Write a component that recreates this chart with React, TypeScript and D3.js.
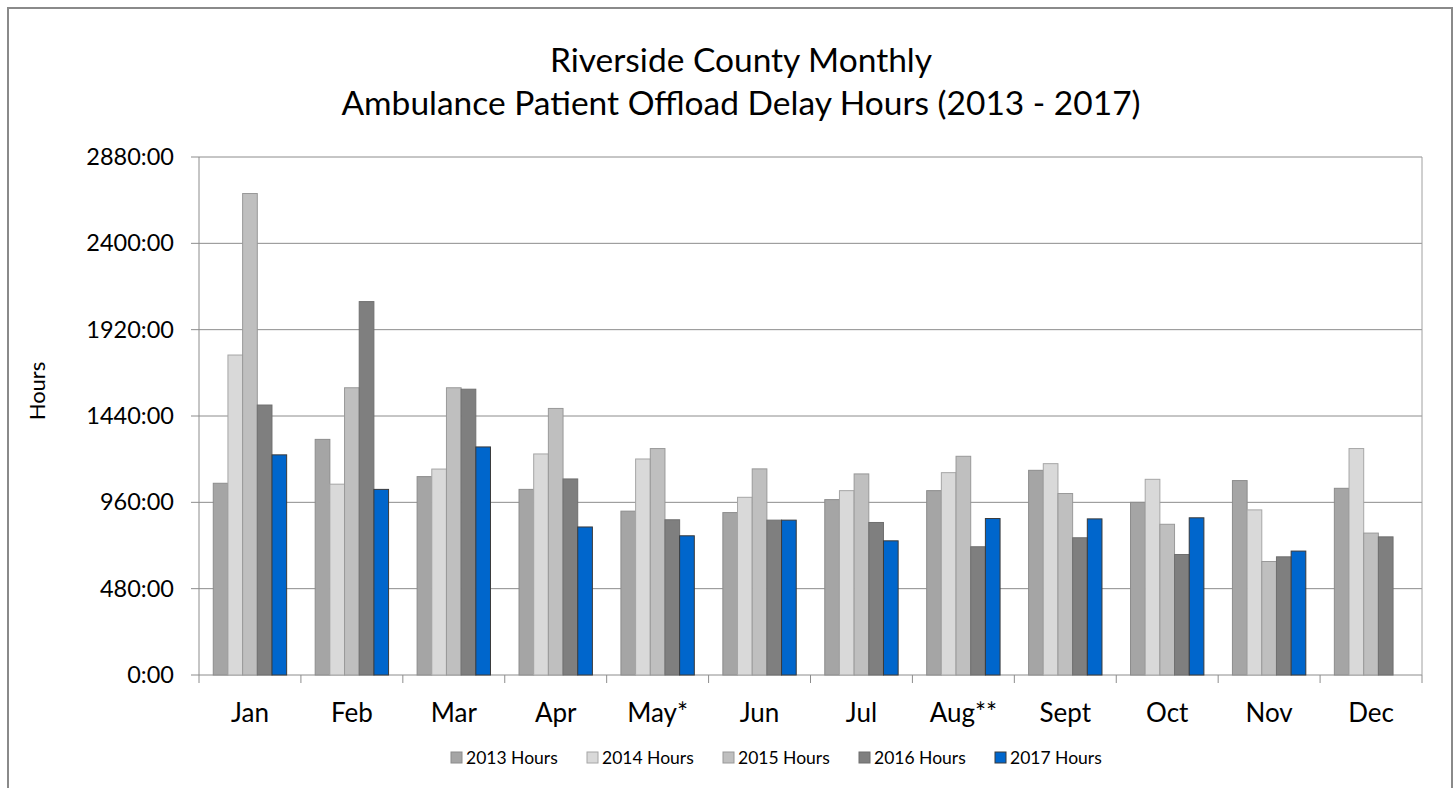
import React from "react";
import * as d3 from "d3";

const months = ["Jan", "Feb", "Mar", "Apr", "May*", "Jun", "Jul", "Aug**", "Sept", "Oct", "Nov", "Dec"];
const seriesNames = ["2013 Hours", "2014 Hours", "2015 Hours", "2016 Hours", "2017 Hours"];
const h2013 = [1066, 1310, 1103, 1032, 911, 903, 975, 1025, 1138, 960, 1081, 1038];
const h2014 = [1779, 1061, 1145, 1229, 1201, 988, 1025, 1125, 1175, 1088, 918, 1259];
const h2015 = [2677, 1597, 1597, 1482, 1259, 1146, 1118, 1216, 1009, 838, 631, 789];
const h2016 = [1501, 2076, 1589, 1090, 863, 861, 848, 713, 763, 670, 657, 768];
const h2017: (number | null)[] = [1224, 1032, 1268, 823, 774, 861, 746, 870, 868, 874, 689, null];
const yTicks = [0, 480, 960, 1440, 1920, 2400, 2880];

const seriesValues = [h2013, h2014, h2015, h2016, h2017];
const fills = ["#A5A5A5", "#D9D9D9", "#BFBFBF", "#7F7F7F", "#0066CC"];
const strokes = ["#8C8C8C", "#A6A6A6", "#999999", "#6F6F6F", "#3A3A3A"];

const FONT = "Lato, 'Open Sans', sans-serif";

export default function App() {
  const W = 1456, H = 788;
  const left = 199, right = 1422, top = 157, bottom = 675;

  const x = d3.scaleBand<string>().domain(months).range([left, right]).paddingInner(0.28).paddingOuter(0.14);
  const xInner = d3.scaleBand<string>().domain(seriesNames).range([0, x.bandwidth()]).padding(0);
  const y = d3.scaleLinear().domain([0, 2880]).range([bottom, top]);
  const step = x.step();

  return (
    <svg width={W} height={H} style={{ position: "absolute", left: 0, top: 0, background: "#fff" }}>
      <rect x={0} y={0} width={W} height={H} fill="#fff" />
      {/* outer frame */}
      <rect x={8} y={8} width={1444} height={800} fill="none" stroke="#8A8A8A" strokeWidth={2} />

      {/* title */}
      <text x={741} y={72} textAnchor="middle" fontFamily={FONT} fontSize={33.5} fill="#000">
        Riverside County Monthly
      </text>
      <text x={741} y={115} textAnchor="middle" fontFamily={FONT} fontSize={33.5} fill="#000">
        Ambulance Patient Offload Delay Hours (2013 - 2017)
      </text>

      {/* gridlines */}
      {yTicks.map((t) => (
        <line key={t} x1={left - 8} x2={right} y1={y(t)} y2={y(t)} stroke="#8C8C8C" strokeWidth={1} />
      ))}
      {/* plot area right border */}
      <line x1={right} x2={right} y1={top} y2={bottom} stroke="#A0A0A0" strokeWidth={1} />
      {/* y axis */}
      <line x1={left} x2={left} y1={top} y2={bottom} stroke="#8C8C8C" strokeWidth={1} />
      {/* x tick marks */}
      {d3.range(months.length + 1).map((i) => (
        <line key={i} x1={left + i * step} x2={left + i * step} y1={bottom} y2={bottom + 8} stroke="#8C8C8C" strokeWidth={1} />
      ))}

      {/* y tick labels */}
      {yTicks.map((t) => (
        <text key={t} x={174} y={y(t) + 8} textAnchor="end" fontFamily={FONT} fontSize={23.5} fill="#000">
          {`${t}:00`}
        </text>
      ))}

      {/* y axis title */}
      <text transform="translate(45,391) rotate(-90)" textAnchor="middle" fontFamily={FONT} fontSize={22} fill="#000">
        Hours
      </text>

      {/* bars */}
      {months.map((m, i) => (
        <g key={m}>
          {seriesValues.map((vals, s) => {
            const v = vals[i];
            if (v == null) return null;
            const bx = (x(m) as number) + (xInner(seriesNames[s]) as number);
            return (
              <rect
                key={s}
                x={bx}
                y={y(v)}
                width={xInner.bandwidth()}
                height={bottom - y(v)}
                fill={fills[s]}
                stroke={strokes[s]}
                strokeWidth={1}
              />
            );
          })}
        </g>
      ))}

      {/* x labels */}
      {months.map((m) => (
        <text key={m} x={(x(m) as number) + x.bandwidth() / 2} y={722} textAnchor="middle" fontFamily={FONT} fontSize={26} fill="#000">
          {m}
        </text>
      ))}

      {/* legend */}
      {seriesNames.map((n, s) => (
        <g key={n} transform={`translate(${451 + s * 136},752)`}>
          <rect x={0} y={0} width={11} height={11} fill={fills[s]} stroke={strokes[s]} strokeWidth={1} />
          <text x={15} y={11.5} fontFamily={FONT} fontSize={17.5} fill="#000">
            {n}
          </text>
        </g>
      ))}
    </svg>
  );
}
